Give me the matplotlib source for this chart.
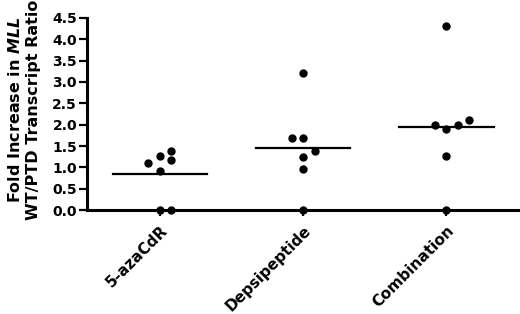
import matplotlib
matplotlib.use("Agg")
import matplotlib.pyplot as plt
import numpy as np

plt.rcParams['font.family'] = ['DejaVu Sans']
plt.rcParams['font.weight'] = 'bold'
plt.rcParams['mathtext.fontset'] = 'custom'
plt.rcParams['mathtext.it'] = 'DejaVu Sans:italic:bold'
plt.rcParams['mathtext.rm'] = 'DejaVu Sans:bold'

# data
groups = ["5-azaCdR", "Depsipeptide", "Combination"]
aza = [1.10, 1.27, 1.39, 1.18, 0.92, 0.0, 0.0]
depsi = [3.20, 1.68, 1.68, 1.38, 1.25, 0.97, 0.0]
combo = [4.30, 2.00, 1.89, 2.00, 2.10, 1.27, 0.0]
# horizontal slot of each dot inside its column (scatter dodge)
aza_slots = [-1, 0, 1, 1, 0, 0, 1]
depsi_slots = [0, -1, 0, 1, 0, 0, 0]
combo_slots = [0, -1, 0, 1, 2, 0, 0]
yticks = [0.0, 0.5, 1.0, 1.5, 2.0, 2.5, 3.0, 3.5, 4.0, 4.5]

fig = plt.figure(figsize=(5.2, 3.14), dpi=100)
ax = fig.add_axes([0.167, 0.331, 0.829, 0.612])

slot_w = 0.08
for i, (vals, slots) in enumerate([(aza, aza_slots), (depsi, depsi_slots), (combo, combo_slots)]):
    xs = i + slot_w * np.array(slots)
    ax.plot(xs, vals, 'o', color='black', markersize=5, clip_on=False, zorder=3)
    ax.plot([i - 0.33, i + 0.33], [np.mean(vals)] * 2, color='black', lw=1.6)

ax.set_xlim(-0.51, 2.5)
ax.set_ylim(0, 4.5)
ax.set_yticks(yticks)
ax.set_yticklabels([f"{t:.1f}" for t in yticks], fontsize=10, fontweight='bold')
ax.set_xticks(range(len(groups)))
ax.set_xticklabels(groups, rotation=45, ha='right', va='top', rotation_mode='anchor',
                   fontsize=11, fontweight='bold')

for s in ['top', 'right']:
    ax.spines[s].set_visible(False)
for s in ['left', 'bottom']:
    ax.spines[s].set_linewidth(2.2)
ax.tick_params(axis='both', width=1.6, length=6, pad=1)
ax.tick_params(axis='x', length=4, pad=5)

ax.set_ylabel("Fold Increase in $\\mathit{MLL}$\nWT/PTD Transcript Ratio",
              fontsize=11.5, fontweight='bold', linespacing=1.2)
ax.yaxis.set_label_coords(-0.107, 0.52)

fig.savefig("out.png", dpi=100)
